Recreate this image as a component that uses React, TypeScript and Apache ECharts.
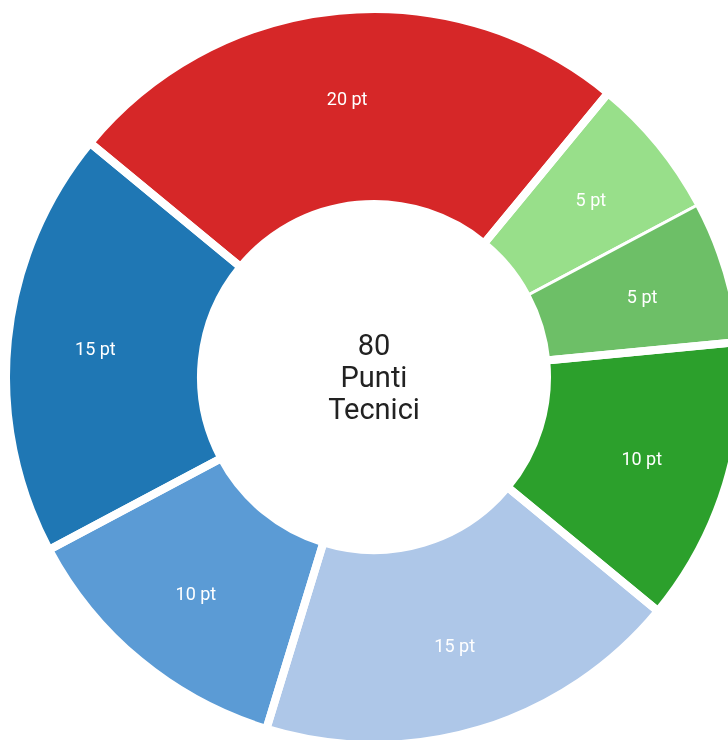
import React, { useEffect, useRef } from "react";
import * as echarts from "echarts";

const categories = ["Voce A", "Voce B", "Voce C", "Voce D", "Voce E", "Voce F", "Voce G"];
const values = [20, 5, 5, 10, 15, 10, 15];
const colors = ["#d62728", "#98df8a", "#6dbf67", "#2ca02c", "#aec7e8", "#5b9bd5", "#1f77b4"];
const groups = [0, 1, 1, 2, 3, 4, 5];
const centerLabel = "Punti\nTecnici";
const unit = "pt";

const FONT = "Roboto, 'Noto Sans', sans-serif";

export default function App() {
  const ref = useRef<HTMLDivElement>(null);
  useEffect(() => {
    if (!ref.current) return;
    const chart = echarts.init(ref.current, undefined, { renderer: "svg" });
    const total = values.reduce((a, b) => a + b, 0);
    const groupSums: number[] = [];
    groups.forEach((g, i) => {
      groupSums[g] = (groupSums[g] || 0) + values[i];
    });
    const center = [374, 377];
    const startAngle = 140.5;
    chart.setOption({
      animation: false,
      series: [
        {
          type: "pie",
          radius: [173, 368],
          center,
          startAngle,
          clockwise: true,
          silent: true,
          emphasis: { disabled: true },
          label: { show: false },
          labelLine: { show: false },
          data: values.map((v, i) => ({
            name: categories[i],
            value: v,
            itemStyle: { color: colors[i], borderColor: "#ffffff", borderWidth: 3 },
          })),
        },
        {
          type: "pie",
          radius: [173, 368],
          center,
          startAngle,
          clockwise: true,
          silent: true,
          emphasis: { disabled: true },
          label: { show: false },
          labelLine: { show: false },
          data: groupSums.map((v, i) => ({
            name: "g" + i,
            value: v,
            itemStyle: { color: "rgba(0,0,0,0)", borderColor: "#ffffff", borderWidth: 8 },
          })),
        },
        {
          type: "pie",
          radius: [182, 372],
          center,
          startAngle,
          clockwise: true,
          silent: true,
          emphasis: { disabled: true },
          avoidLabelOverlap: false,
          labelLine: { show: false },
          label: {
            show: true,
            position: "inside",
            formatter: (p: any) => `${p.value} ${unit}`,
            color: "#ffffff",
            fontSize: 18,
            fontFamily: FONT,
            fontWeight: "normal",
          },
          data: values.map((v, i) => ({
            name: categories[i],
            value: v,
            itemStyle: { color: "rgba(0,0,0,0)", borderWidth: 0 },
          })),
        },
      ],
      graphic: [
        {
          type: "text",
          x: center[0],
          y: center[1],
          silent: true,
          style: {
            text: `${total}\n${centerLabel}`,
            x: 0,
            y: 0,
            align: "center",
            verticalAlign: "middle",
            fontSize: 29,
            lineHeight: 32,
            fontFamily: FONT,
            fill: "#222222",
          },
        },
      ],
    });
    return () => chart.dispose();
  }, []);
  return (
    <div
      ref={ref}
      style={{ position: "fixed", left: 0, top: 0, width: 728, height: 740 }}
    />
  );
}
